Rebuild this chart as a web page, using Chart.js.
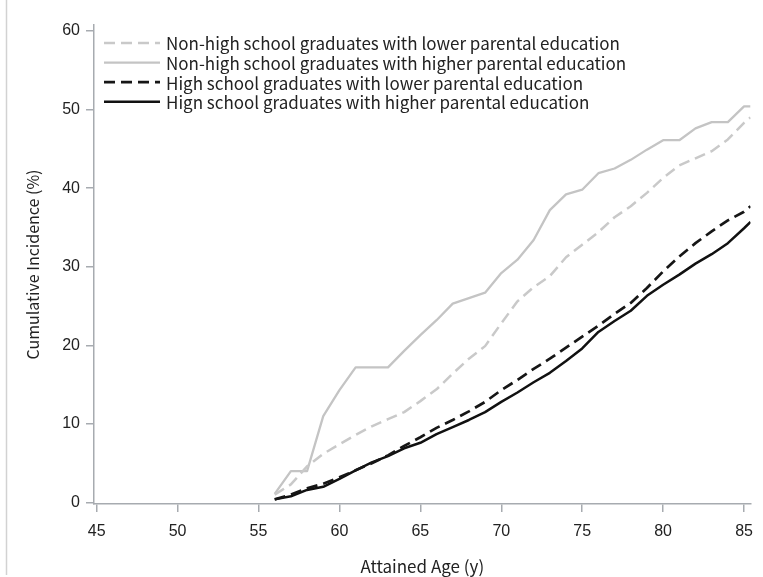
<!DOCTYPE html>
<html>
<head>
<meta charset="utf-8">
<script src="https://cdn.jsdelivr.net/npm/chart.js@4/dist/chart.umd.min.js"></script>
<style>
  html, body { margin: 0; padding: 0; background: #fff; }
  #wrap { position: relative; width: 763px; height: 577px; }
</style>
</head>
<body>
<div id="wrap"><canvas id="c" width="763" height="577"></canvas></div>
<script>
// Attained age (years); the last point closes each curve at the right edge
const ages = [56, 57, 58, 59, 60, 61, 62, 63, 64, 65, 66, 67, 68, 69, 70,
              71, 72, 73, 74, 75, 76, 77, 78, 79, 80, 81, 82, 83, 84, 85, 85.4];

// Cumulative incidence (%) by group
const nonHsLower  = [1.0, 2.3, 4.6, 6.2, 7.4, 8.6, 9.7, 10.6, 11.5, 12.9, 14.4, 16.4, 18.3, 19.9, 22.8,
                     25.6, 27.4, 28.8, 31.2, 32.8, 34.4, 36.3, 37.7, 39.4, 41.3, 42.9, 43.8, 44.7, 46.2, 48.3, 49.0];
const nonHsHigher = [1.1, 4.0, 4.0, 11.0, 14.3, 17.2, 17.2, 17.2, 19.3, 21.3, 23.2, 25.3, 26.0, 26.7, 29.2,
                     30.9, 33.4, 37.2, 39.2, 39.8, 41.9, 42.5, 43.6, 44.9, 46.1, 46.1, 47.6, 48.4, 48.4, 50.4, 50.4];
const hsLower     = [0.4, 1.0, 1.8, 2.4, 3.2, 4.1, 5.0, 6.0, 7.2, 8.3, 9.5, 10.5, 11.6, 12.8, 14.3,
                     15.6, 17.0, 18.3, 19.7, 21.1, 22.5, 24.0, 25.4, 27.3, 29.4, 31.3, 33.0, 34.5, 35.9, 37.0, 37.7];
const hsHigher    = [0.4, 0.8, 1.6, 2.0, 3.0, 4.1, 5.1, 5.9, 6.9, 7.6, 8.7, 9.6, 10.5, 11.5, 12.8,
                     14.0, 15.3, 16.5, 18.0, 19.6, 21.7, 23.1, 24.4, 26.3, 27.7, 29.0, 30.4, 31.6, 33.0, 34.9, 35.7];

const seriesLabels = [
  'Non-high school graduates with lower parental education',
  'Non-high school graduates with higher parental education',
  'High school graduates with lower parental education',
  'Hign school graduates with higher parental education'
];

const xTicks = [45, 50, 55, 60, 65, 70, 75, 80, 85];
const yTicks = [0, 10, 20, 30, 40, 50, 60];

const AXIS_GREY = '#a7abb0';
const TEXT_FONT = '"Noto Sans CJK JP", "Liberation Sans", sans-serif';

const toPoints = vals => vals.map((v, i) => ({ x: ages[i], y: v }));

// Legend drawn inside the plot, top-left, using each dataset's own stroke style
const insideKey = {
  id: 'insideKey',
  afterDatasetsDraw(chart) {
    const { ctx, chartArea } = chart;
    const x0 = chartArea.left + 10, lineLen = 56, rowH = 19.6;
    ctx.save();
    ctx.font = '17px ' + TEXT_FONT;
    ctx.textBaseline = 'middle';
    ctx.textAlign = 'left';
    chart.data.datasets.forEach((ds, i) => {
      const y = chartArea.top + 18 + i * rowH;
      ctx.beginPath();
      ctx.strokeStyle = ds.borderColor;
      ctx.lineWidth = ds.borderWidth;
      ctx.setLineDash(ds.borderDash || []);
      ctx.moveTo(x0, y);
      ctx.lineTo(x0 + lineLen, y);
      ctx.stroke();
      ctx.setLineDash([]);
      ctx.fillStyle = '#222';
      ctx.fillText(ds.label, x0 + lineLen + 6, y + 1);
    });
    ctx.restore();
  }
};

// Thin rule along the left edge of the figure
const edgeRule = {
  id: 'edgeRule',
  beforeDraw(chart) {
    const { ctx } = chart;
    ctx.save();
    ctx.fillStyle = '#fff';
    ctx.fillRect(0, 0, chart.width, chart.height);
    ctx.strokeStyle = '#d2d2d2';
    ctx.lineWidth = 1.5;
    ctx.beginPath();
    ctx.moveTo(6.5, 0);
    ctx.lineTo(6.5, 575);
    ctx.stroke();
    ctx.restore();
  }
};

new Chart(document.getElementById('c'), {
  type: 'line',
  data: {
    datasets: [
      { label: seriesLabels[0], data: toPoints(nonHsLower),  borderColor: '#c9c9c9', borderWidth: 2.5, borderDash: [11, 6] },
      { label: seriesLabels[1], data: toPoints(nonHsHigher), borderColor: '#c4c4c4', borderWidth: 2.3 },
      { label: seriesLabels[2], data: toPoints(hsLower),     borderColor: '#161616', borderWidth: 2.7, borderDash: [11, 6] },
      { label: seriesLabels[3], data: toPoints(hsHigher),    borderColor: '#111111', borderWidth: 2.5 }
    ].map(d => Object.assign({ pointRadius: 0, tension: 0, fill: false, borderJoinStyle: 'round' }, d))
  },
  options: {
    responsive: false,
    animation: false,
    devicePixelRatio: 1,
    layout: { padding: { left: 0, top: 25, right: 6, bottom: 0 } },
    plugins: { legend: { display: false }, tooltip: { enabled: false } },
    scales: {
      x: {
        type: 'linear',
        min: 44.835,
        max: 85.4,
        afterBuildTicks: s => { s.ticks = xTicks.map(v => ({ value: v })); },
        afterFit: s => { s.height = 73; },
        border: { color: AXIS_GREY, width: 1.5 },
        grid: { drawOnChartArea: false, drawTicks: true, tickLength: 8, color: AXIS_GREY, lineWidth: 1.5 },
        ticks: { color: '#222', padding: 10, maxRotation: 0, font: { family: '"Liberation Sans", sans-serif', size: 16 } },
        title: { display: true, text: 'Attained Age (y)', color: '#222', padding: { top: 12, bottom: 0 },
                 font: { family: TEXT_FONT, size: 17 } }
      },
      y: {
        type: 'linear',
        min: -0.19,
        max: 60.76,
        afterBuildTicks: s => { s.ticks = yTicks.map(v => ({ value: v })); },
        afterFit: s => { s.width = 94; },
        border: { color: AXIS_GREY, width: 1.5 },
        grid: { drawOnChartArea: false, drawTicks: true, tickLength: 8, color: AXIS_GREY, lineWidth: 1.5 },
        ticks: { color: '#222', padding: 6, font: { family: '"Liberation Sans", sans-serif', size: 16 } },
        title: { display: true, text: 'Cumulative Incidence (%)', color: '#222', padding: { top: 23, bottom: 0 },
                 font: { family: TEXT_FONT, size: 16 } }
      }
    }
  },
  plugins: [edgeRule, insideKey]
});
</script>
</body>
</html>
